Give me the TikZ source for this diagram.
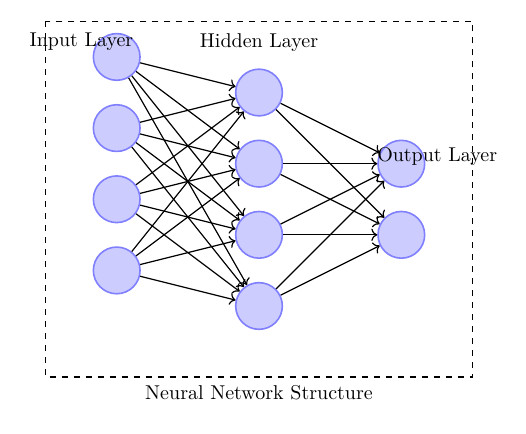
\documentclass[tikz,border=0pt]{standalone}
\usepackage{tikz}
\usetikzlibrary{arrows}
\usetikzlibrary{arrows.meta}

\begin{document}
\begin{tikzpicture}[neuron/.style={circle, draw=blue!50, fill=blue!20, thick, minimum size=0.82cm},
                    link/.style={->, semithick}]
          \useasboundingbox (-2.05,-6.61) rectangle (7.19,1.0);

          \node [neuron] (in1) at (0,0) {}; % Input neurons
          \node [neuron] (in2) at (0,-1.25) {};
          \node [neuron] (in3) at (0,-2.5) {};
          \node [neuron] (in4) at (0,-3.75) {};

          \node [neuron] (hid1) at (2.5,-0.625) {}; % Hidden neurons
          \node [neuron] (hid2) at (2.5,-1.875) {};
          \node [neuron] (hid3) at (2.5,-3.125) {};
          \node [neuron] (hid4) at (2.5,-4.375) {};

          \node [neuron] (out1) at (5,-1.875) {}; % Output neurons
          \node [neuron] (out2) at (5,-3.125) {};

          \node (inlabel) at (-0.62,0.26) {Input Layer};
          \node (hidlabel) at (2.5,0.26) {Hidden Layer};
          \node (outlabel) at (5.63,-1.75) {Output Layer};

          \path [link] (in1) edge (hid1) edge (hid2) edge (hid3) edge (hid4);
          \path [link] (in2) edge (hid1) edge (hid2) edge (hid3) edge (hid4);
          \path [link] (in3) edge (hid1) edge (hid2) edge (hid3) edge (hid4);
          \path [link] (in4) edge (hid1) edge (hid2) edge (hid3) edge (hid4);

          \path [link] (hid1) edge (out1) edge (out2);
          \path [link] (hid2) edge (out1) edge (out2);
          \path [link] (hid3) edge (out1) edge (out2);
          \path [link] (hid4) edge (out1) edge (out2);

          \coordinate (frameNW) at (-1.25,0.625);
          \coordinate (frameSE) at (6.25,-5.625);
          \draw [dashed, thick] (frameNW) rectangle (frameSE); % Draws the frame
          \node (caption) at (2.5,-5.9) {Neural Network Structure};
        \end{tikzpicture}
\end{document}
